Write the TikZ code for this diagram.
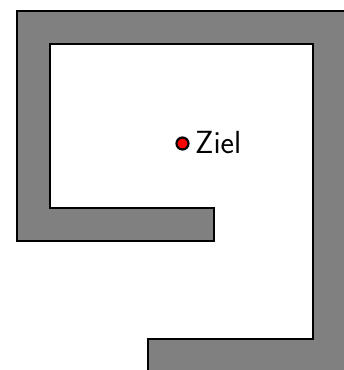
\documentclass[tikz,border=0pt]{standalone}
\definecolor{wallgray}{RGB}{128,128,128}
\tikzset{
  wall/.style={fill=wallgray, draw=black, line width=2.6pt, line join=miter},
  goal/.style={circle, fill=red, draw=black, line width=2.2pt, inner sep=0pt, minimum size=12pt},
  goallabel/.style={font=\sffamily\fontsize{32}{38}\selectfont, inner sep=0pt, anchor=base west}
}
\begin{document}
\begin{tikzpicture}[x=1pt, y=-1pt]
\useasboundingbox (0,0) rectangle (344,370);
\clip (0,0) rectangle (344,370);
\draw[wall] (17,11) -- (400,11) -- (400,400) -- (148,400) -- (148,339) -- (313,339) -- (313,44) -- (50,44) -- (50,208) -- (214,208) -- (214,241) -- (17,241) -- cycle;
\node[goal] (ziel) at (182.5,143.5) {};
\node[goallabel] (label) at (195,153.5) {Ziel};
\end{tikzpicture}
\end{document}
